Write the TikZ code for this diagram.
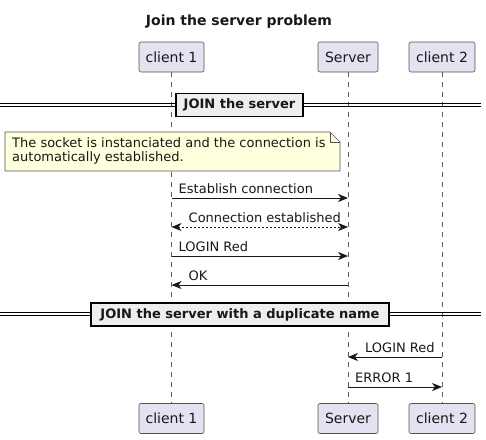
\documentclass[tikz,border=0pt]{standalone}
\usepackage{fontspec}
\setmainfont{DejaVu Sans}
\usetikzlibrary{arrows.meta, positioning, calc, backgrounds}

\definecolor{partfill}{HTML}{E2E2F0}
\definecolor{partline}{HTML}{181818}
\definecolor{notefill}{HTML}{FEFFDD}
\definecolor{divfill}{HTML}{EEEEEE}

\begin{document}
\begin{tikzpicture}[
  x=1pt, y=-1pt,
  every node/.style={font=\fontsize{13}{15}\selectfont, inner sep=0pt, text=partline},
  participant/.style={draw=partline!75, fill=partfill, rounded corners=2pt, minimum height=30pt, line width=0.6pt, font=\fontsize{14}{16}\selectfont},
  lifeline/.style={draw=partline!70, dash pattern=on 5pt off 5pt, line width=0.5pt},
  msg/.style={draw=partline, line width=0.8pt, -{Stealth[length=10pt, width=8pt, inset=3pt]}},
  reply/.style={msg, {Stealth[length=10pt, width=8pt, inset=3pt]}-{Stealth[length=10pt, width=8pt, inset=3pt]}, dash pattern=on 2pt off 2pt},
  msglabel/.style={anchor=base west},
  notebox/.style={draw=partline!75, fill=notefill, line width=0.6pt},
  divline/.style={draw=black, line width=1pt},
  divider/.style={draw=black, line width=1.5pt, fill=divfill, minimum height=23pt, font=\bfseries\fontsize{13}{15}\selectfont}
]
\useasboundingbox (0,0) rectangle (486,439);

% title
\node[font=\bfseries\fontsize{14}{16}\selectfont] (title) at (239,22) {Join the server problem};

% participants
\node[participant, minimum width=65pt] (c1top) at (171.5,57) {client 1};
\node[participant, minimum width=60pt] (srvtop) at (348,57) {Server};
\node[participant, minimum width=66pt] (c2top) at (442,57) {client 2};
\node[participant, minimum width=65pt] (c1bot) at (171.5,418.5) {client 1};
\node[participant, minimum width=60pt] (srvbot) at (348,418.5) {Server};
\node[participant, minimum width=66pt] (c2bot) at (442,418.5) {client 2};

% lifelines
\begin{scope}[on background layer]
  \draw[lifeline] (c1top) -- (c1bot);
  \draw[lifeline] (srvtop) -- (srvbot);
  \draw[lifeline] (c2top) -- (c2bot);
\end{scope}

% first group
\coordinate (d1l) at (0,105);
\coordinate (d1r) at (481,105);
\draw[divline] ([yshift=-1.5pt]d1l) -- ([yshift=-1.5pt]d1r);
\draw[divline] ([yshift=1.5pt]d1l) -- ([yshift=1.5pt]d1r);
\node[divider, minimum width=127pt] (join1) at (239.5,105) {JOIN the server};

% note
\draw[notebox] (5,132) -- (330,132) -- (340,142) -- (340,171) -- (5,171) -- cycle;
\draw[notebox, fill=none] (330,132) -- (330,142) -- (340,142);
\node[anchor=north west, align=left, font=\fontsize{13}{14.5}\selectfont] (note) at (12,137)
  {The socket is instanciated and the connection is\\automatically established.};

% messages
\coordinate (r1) at (0,198);
\coordinate (r2) at (0,227);
\coordinate (r3) at (0,256);
\coordinate (r4) at (0,285);
\coordinate (r5) at (0,357);
\coordinate (r6) at (0,387);

\draw[msg] (c1top |- r1) -- (srvtop |- r1);
\node[msglabel] (m1) at ($(c1top |- r1)+(7,-5)$) {Establish connection};

\draw[reply] (c1top |- r2) -- (srvtop |- r2);
\node[msglabel] (m2) at ($(c1top |- r2)+(17,-5)$) {Connection established};

\draw[msg] (c1top |- r3) -- (srvtop |- r3);
\node[msglabel] (m3) at ($(c1top |- r3)+(7,-5)$) {LOGIN Red};

\draw[msg] (srvtop |- r4) -- (c1top |- r4);
\node[msglabel] (m4) at ($(c1top |- r4)+(17,-5)$) {OK};

% second group
\coordinate (d2l) at (0,314);
\coordinate (d2r) at (481,314);
\draw[divline] ([yshift=-1.5pt]d2l) -- ([yshift=-1.5pt]d2r);
\draw[divline] ([yshift=1.5pt]d2l) -- ([yshift=1.5pt]d2r);
\node[divider, minimum width=298pt] (join2) at (240,314.5) {JOIN the server with a duplicate name};

\draw[msg] (c2top |- r5) -- (srvtop |- r5);
\node[msglabel] (m5) at ($(srvtop |- r5)+(17,-5)$) {LOGIN Red};

\draw[msg] (srvtop |- r6) -- (c2top |- r6);
\node[msglabel] (m6) at ($(srvtop |- r6)+(7,-5)$) {ERROR 1};

\end{tikzpicture}
\end{document}
